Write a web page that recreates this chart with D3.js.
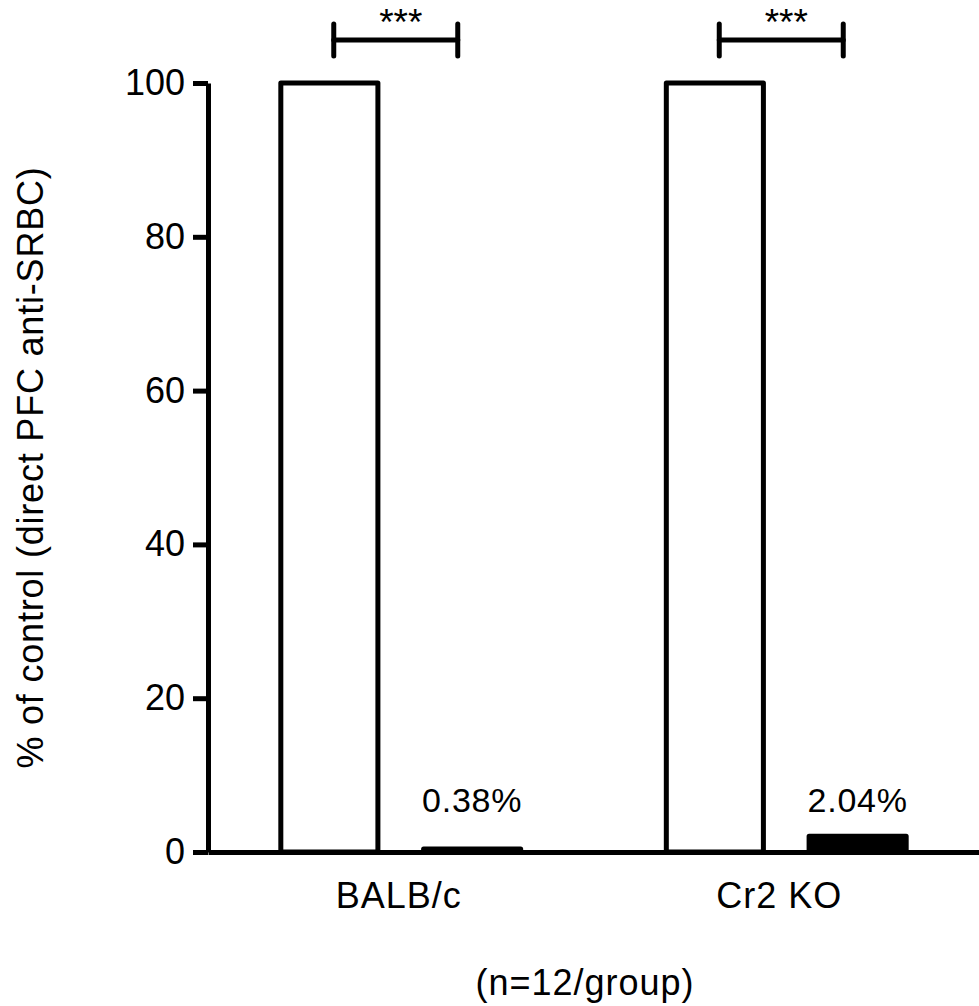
<!DOCTYPE html>
<html>
    <head>
        <script src="https://d3js.org/d3.v7.min.js"></script>
        <style>
            body {
                margin: 0;
                background: white;
            }
            svg {
                display: block;
                font-family: "Liberation Sans", Arial, sans-serif;
            }
        </style>
    </head>
    <body>
        <div class="chart"></div>
        <script>
            // data
            let groups = ["BALB/c", "Cr2 KO"];
            let conditions = ["control", "treated"];
            let controlValues = [100, 100];
            let treatedValues = [0.38, 2.04];
            let valueLabels = ["0.38%", "2.04%"];
            let sigLabels = ["***", "***"];
            let yTicks = [0, 20, 40, 60, 80, 100];

            let width = 979, height = 1006;
            let margin = {top: 83, right: 0, bottom: 154, left: 208};

            let svg = d3.select("div.chart").append("svg")
                .attr("width", width)
                .attr("height", height);

            // scales
            let y = d3.scaleLinear()
                .domain([0, 100])
                .range([height - margin.bottom, margin.top]);

            let x0 = d3.scaleBand()
                .domain(groups)
                .range([margin.left, width - margin.right])
                .padding(0);

            let x1 = d3.scaleBand()
                .domain(conditions)
                .range([0, x0.bandwidth()])
                .paddingInner(0.32)
                .paddingOuter(0.51);

            // bars
            groups.forEach((g, i) => {
                let vals = [controlValues[i], treatedValues[i]];
                conditions.forEach((c, j) => {
                    svg.append("rect")
                        .attr("x", x0(g) + x1(c))
                        .attr("y", y(vals[j]))
                        .attr("width", x1.bandwidth())
                        .attr("height", y(0) - y(vals[j]))
                        .attr("fill", j == 0 ? "white" : "black")
                        .attr("stroke", "black")
                        .attr("stroke-width", 5)
                        .attr("stroke-linejoin", "round");
                });

                // percentage label above treated bar
                svg.append("text")
                    .attr("x", x0(g) + x1("treated") + x1.bandwidth() / 2)
                    .attr("y", y(0) - 40)
                    .attr("text-anchor", "middle")
                    .attr("font-size", 34)
                    .attr("letter-spacing", 0.8)
                    .text(valueLabels[i]);

                // significance bracket
                let cx = x0(g) + x0.bandwidth() / 2 - 5;
                let by = y(100) - 43;
                let bracket = svg.append("g")
                    .attr("stroke", "black")
                    .attr("stroke-width", 5)
                    .attr("stroke-linecap", "round");
                bracket.append("line")
                    .attr("x1", cx - 62).attr("x2", cx + 62)
                    .attr("y1", by).attr("y2", by);
                bracket.append("line")
                    .attr("x1", cx - 62).attr("x2", cx - 62)
                    .attr("y1", by - 16).attr("y2", by + 16);
                bracket.append("line")
                    .attr("x1", cx + 62).attr("x2", cx + 62)
                    .attr("y1", by - 16).attr("y2", by + 16);

                svg.append("text")
                    .attr("x", cx + 5)
                    .attr("y", by - 5)
                    .attr("text-anchor", "middle")
                    .attr("font-size", 37)
                    .text(sigLabels[i]);
            });

            // y axis
            let yAxis = svg.append("g")
                .attr("transform", `translate(${margin.left},0)`)
                .call(d3.axisLeft(y).tickValues(yTicks).tickSize(15).tickSizeOuter(0).tickPadding(8));
            yAxis.selectAll("path, line")
                .attr("stroke", "black")
                .attr("stroke-width", 5);
            yAxis.selectAll("text")
                .attr("font-size", 36)
                .attr("fill", "black")
                .attr("font-family", "Liberation Sans, Arial, sans-serif");

            // x axis
            let xAxis = svg.append("g")
                .attr("transform", `translate(0,${y(0)})`)
                .call(d3.axisBottom(x0).tickSize(0).tickSizeOuter(0).tickPadding(30));
            xAxis.select(".domain")
                .attr("stroke", "black")
                .attr("stroke-width", 5);
            xAxis.selectAll("text")
                .attr("font-size", 36)
                .attr("letter-spacing", 1)
                .attr("dx", (d, i) => i == 1 ? -7 : -2)
                .attr("fill", "black")
                .attr("font-family", "Liberation Sans, Arial, sans-serif");

            // axis titles
            svg.append("text")
                .attr("transform", "rotate(-90)")
                .attr("x", -(y(0) + y(100)) / 2)
                .attr("y", 43)
                .attr("text-anchor", "middle")
                .attr("font-size", 36)
                .attr("letter-spacing", 0.8)
                .text("% of control (direct PFC anti-SRBC)");

            svg.append("text")
                .attr("x", 585)
                .attr("y", 995)
                .attr("text-anchor", "middle")
                .attr("font-size", 36)
                .attr("letter-spacing", 1)
                .text("(n=12/group)");
        </script>
    </body>
</html>
